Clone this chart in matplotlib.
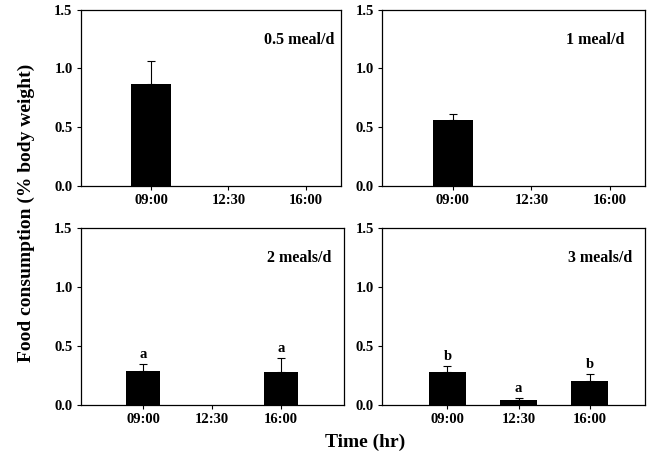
import matplotlib
matplotlib.use("Agg")
import matplotlib.pyplot as plt
import numpy as np

plt.rcParams['font.family'] = ['Liberation Serif', 'DejaVu Serif']
plt.rcParams['font.weight'] = 'bold'

# data
times = ['09:00', '12:30', '16:00']
panel_names = ['0.5 meal/d', '1 meal/d', '2 meals/d', '3 meals/d']
means = [[0.87, 0, 0],
         [0.56, 0, 0],
         [0.29, 0, 0.28],
         [0.28, 0.042, 0.20]]
errs = [[0.19, 0, 0],
        [0.05, 0, 0],
        [0.055, 0, 0.12],
        [0.05, 0.015, 0.06]]
letters = [['', '', ''],
           ['', '', ''],
           ['a', '', 'a'],
           ['b', 'a', 'b']]

# layout (figure fractions) and per-panel x ranges
boxes = [[0.1214, 0.593, 0.390, 0.386],
         [0.5727, 0.593, 0.394, 0.386],
         [0.1214, 0.114, 0.394, 0.387],
         [0.5727, 0.114, 0.394, 0.387]]
xlims = [(-0.906, 2.458), (-0.904, 2.446), (-0.899, 2.913), (-0.92, 2.774)]
widths = [0.517, 0.51, 0.5, 0.52]
label_x = [0.84, 0.81, 0.83, 0.83]

fig = plt.figure(figsize=(6.67, 4.57), dpi=100)
x = np.arange(len(times))

for i in range(4):
    ax = fig.add_axes(boxes[i])
    ax.bar(x, means[i], width=widths[i], color='black', linewidth=0)
    for j in range(len(times)):
        if means[i][j] > 0:
            ax.errorbar(x[j], means[i][j], yerr=[[0], [errs[i][j]]],
                        fmt='none', ecolor='black', elinewidth=0.8,
                        capsize=2.6, capthick=0.8)
        if letters[i][j]:
            ax.text(x[j], means[i][j] + errs[i][j] + 0.025, letters[i][j],
                    ha='center', va='bottom', fontsize=10.5, fontweight='bold')
    ax.set_xlim(*xlims[i])
    ax.set_ylim(0, 1.5)
    ax.set_yticks([0, 0.5, 1.0, 1.5])
    ax.set_yticklabels(['0.0', '0.5', '1.0', '1.5'])
    ax.set_xticks(x)
    ax.set_xticklabels(times)
    ax.tick_params(direction='out', length=3, width=0.8, labelsize=10.5, pad=3)
    for sp in ax.spines.values():
        sp.set_linewidth(0.9)
    ax.text(label_x[i], 0.83, panel_names[i], transform=ax.transAxes,
            ha='center', va='center', fontsize=11.5, fontweight='bold')

fig.text(0.039, 0.535, 'Food consumption (% body weight)', rotation=90,
         ha='center', va='center', fontsize=14, fontweight='bold')
fig.text(0.548, 0.033, 'Time (hr)', ha='center', va='center',
         fontsize=14, fontweight='bold')

fig.savefig('out.png', dpi=100)
